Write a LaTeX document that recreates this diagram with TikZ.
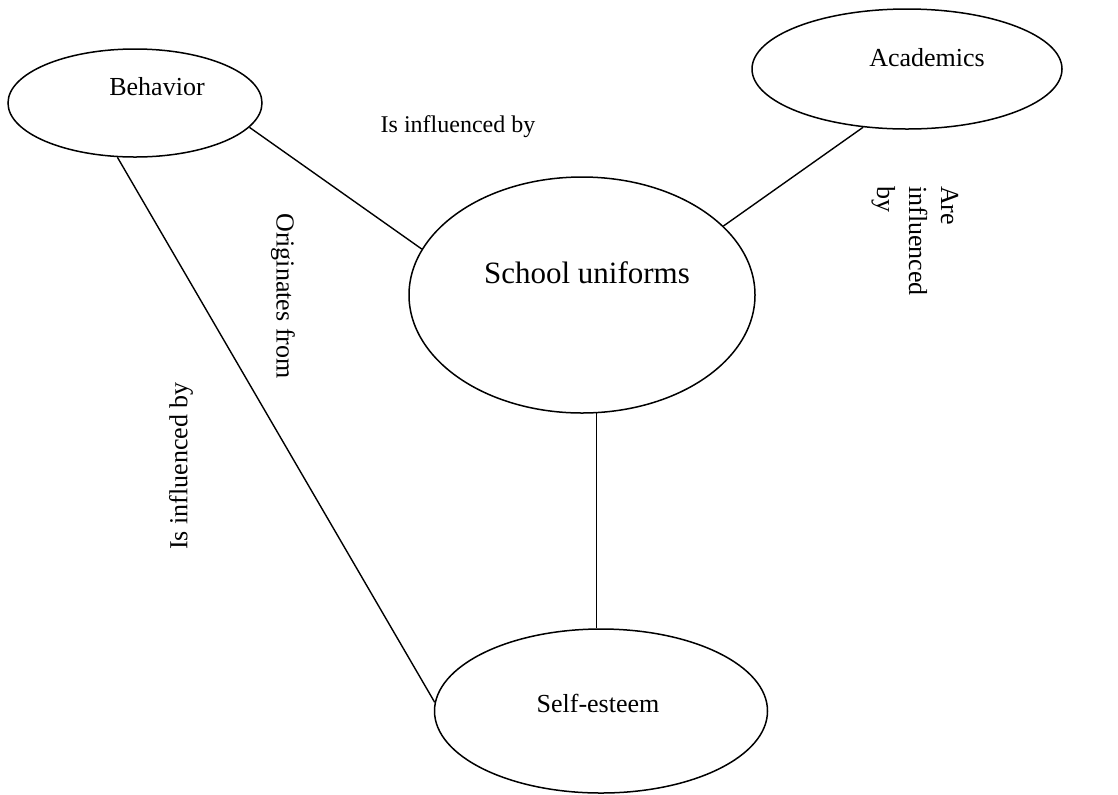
\documentclass[tikz,border=0pt]{standalone}
\usepackage{fontspec}
\setmainfont{Liberation Serif}
\usetikzlibrary{shapes.geometric}

\tikzset{
  bubble/.style={draw, ellipse, line width=0.75pt, inner sep=0pt},
  tag/.style={font=\fontsize{13}{16}\selectfont, inner sep=1pt},
  link/.style={line width=0.7pt}
}

\begin{document}
\begin{tikzpicture}[x=0.5pt,y=-0.5pt]
\useasboundingbox (0,0) rectangle (1118,794);

\node[bubble, minimum width=127pt, minimum height=54pt] (behav) at (135,103) {};
\node[bubble, minimum width=155pt, minimum height=60pt] (acad) at (907,69) {};
\node[bubble, minimum width=173pt, minimum height=118pt] (school) at (582,295) {};
\node[bubble, minimum width=166.5pt, minimum height=82pt] (selfest) at (601,711) {};

\node[tag] (behavtxt) at ([shift={(22,-16)}]behav.center) {Behavior};
\node[tag] (acadtxt) at ([shift={(20,-11)}]acad.center) {Academics};
\node[tag, font=\fontsize{15.5}{18}\selectfont] (schooltxt) at ([shift={(5,-22)}]school.center) {School uniforms};
\node[tag] (selfesttxt) at ([shift={(-3,-8)}]selfest.center) {Self-esteem};

\draw[link] (behav.-12.5) -- (school.164);
\draw[link] (acad.-127) -- (school.26.6);
\draw[link] (behav.-108) -- (selfest.177);
\draw[link] (school.-83) -- (school.-83 |- selfest.north);

\node[tag, font=\fontsize{12}{14}\selectfont] (lab1) at (458,127) {Is influenced by};
\node[tag, rotate=-90] (lab2) at (283,296) {Originates from};
\node[tag, rotate=90] (lab3) at (181,466) {Is influenced by};
\node[tag, rotate=-90, align=left] (lab4) at (915,241) {Are\\influenced\\by};

\end{tikzpicture}
\end{document}
